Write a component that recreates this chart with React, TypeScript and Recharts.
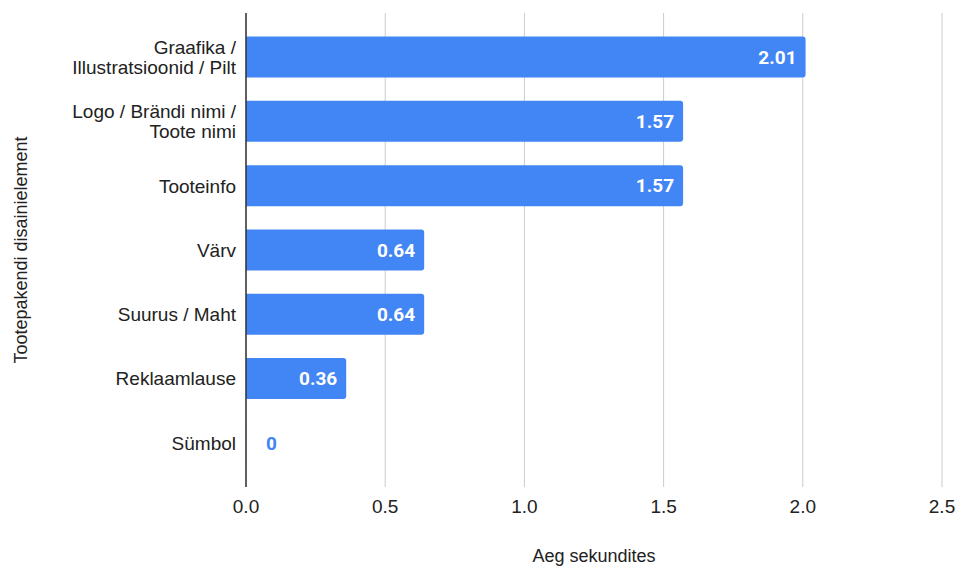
import React from "react";
import { BarChart, Bar, XAxis, YAxis, CartesianGrid, LabelList, Label } from "recharts";

const categories = [
  "Graafika / Illustratsioonid / Pilt",
  "Logo / Brändi nimi / Toote nimi",
  "Tooteinfo",
  "Värv",
  "Suurus / Maht",
  "Reklaamlause",
  "Sümbol",
];
const categoryLines: string[][] = [
  ["Graafika /", "Illustratsioonid / Pilt"],
  ["Logo / Brändi nimi /", "Toote nimi"],
  ["Tooteinfo"],
  ["Värv"],
  ["Suurus / Maht"],
  ["Reklaamlause"],
  ["Sümbol"],
];
const seconds = [2.01, 1.57, 1.57, 0.64, 0.64, 0.36, 0];
const xTicks = [0, 0.5, 1.0, 1.5, 2.0, 2.5];

const data = categories.map((name, i) => ({ name, value: seconds[i] }));

const FONT = "'Liberation Sans', Arial, sans-serif";
const BAR_COLOR = "#4285F4";

const CategoryTick = (props: any) => {
  const { x, y, payload } = props;
  const idx = categories.indexOf(payload.value);
  const lines = idx >= 0 ? categoryLines[idx] : [payload.value];
  const lh = 20;
  const startY = y - ((lines.length - 1) * lh) / 2;
  return (
    <text x={x - 2} textAnchor="end" fontFamily={FONT} fontSize={19} fill="#222">
      {lines.map((l, i) => (
        <tspan key={i} x={x - 2} y={startY + i * lh} dy="0.36em">
          {l}
        </tspan>
      ))}
    </text>
  );
};

const ValueLabel = (props: any) => {
  const { x, y, width, height, value } = props;
  const v = Number(value);
  const cy = Number(y) + Number(height) / 2;
  if (v === 0) {
    return (
      <text x={Number(x) + 20} y={cy} dy="0.36em" textAnchor="start" fontFamily="Roboto, sans-serif" fontWeight={700} fontSize={19} fill={BAR_COLOR}>
        0
      </text>
    );
  }
  return (
    <text x={Number(x) + Number(width) - 9} y={cy} dy="0.36em" textAnchor="end" fontFamily="Roboto, sans-serif" fontWeight={700} fontSize={19} fill="#fff">
      {v.toFixed(2)}
    </text>
  );
};

// zero-valued bars get a hairline size so their value label is still placed
const zeroMinSize = (value: any) => (Number(value) === 0 ? 0.01 : 0);

export default function App() {
  return (
    <div style={{ position: "absolute", left: 0, top: 0, background: "#fff" }}>
      <BarChart
        width={957}
        height={566}
        data={data}
        layout="vertical"
        margin={{ top: 13, right: 15, bottom: 0, left: 0 }}
        barCategoryGap="18%"
      >
        <CartesianGrid horizontal={false} stroke="#cccccc" />
        <XAxis
          type="number"
          domain={[0, 2.5]}
          ticks={xTicks}
          tickFormatter={(v: number) => v.toFixed(1)}
          axisLine={false}
          tickLine={false}
          tick={{ fontFamily: FONT, fontSize: 19, fill: "#222" }}
          tickMargin={7}
          height={79}
        >
          <Label
            value="Aeg sekundites"
            position="insideBottom"
            offset={4}
            style={{ fontFamily: FONT, fontSize: 18, fill: "#222" }}
          />
        </XAxis>
        <YAxis
          type="category"
          dataKey="name"
          width={246}
          padding={{ top: 12, bottom: 12 }}
          axisLine={{ stroke: "#333", strokeWidth: 1.5 }}
          tickLine={false}
          tick={<CategoryTick />}
          interval={0}
        >
          <Label
            value="Tootepakendi disainielement"
            angle={-90}
            position="insideLeft"
            offset={21}
            style={{ fontFamily: FONT, fontSize: 18, fill: "#222", textAnchor: "middle" }}
          />
        </YAxis>
        <Bar
          dataKey="value"
          fill={BAR_COLOR}
          radius={[0, 3, 3, 0]}
          minPointSize={zeroMinSize}
          isAnimationActive={false}
        >
          <LabelList dataKey="value" content={<ValueLabel />} />
        </Bar>
      </BarChart>
    </div>
  );
}
